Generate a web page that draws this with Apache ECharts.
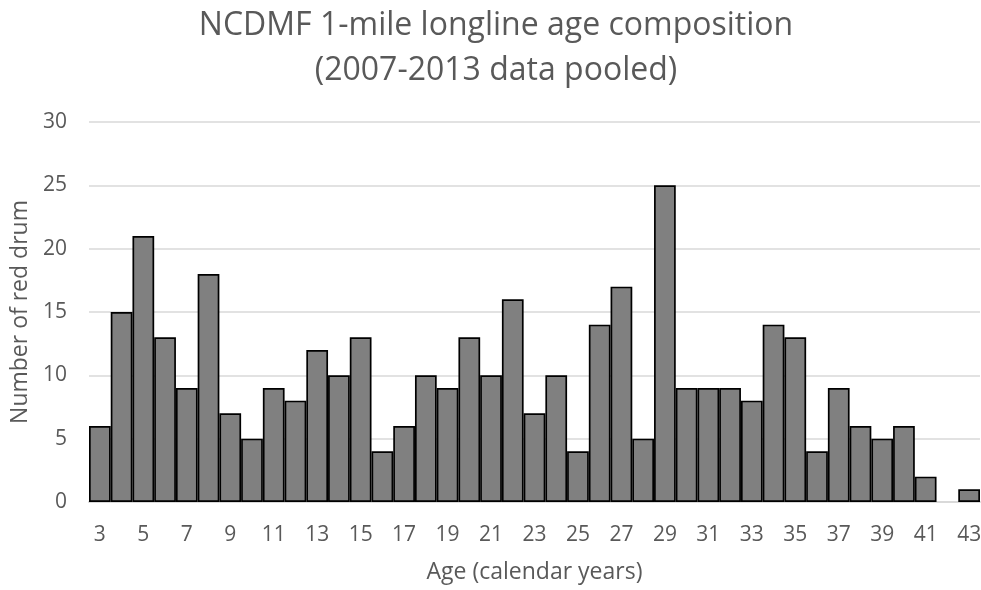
<!DOCTYPE html>
<html><head><meta charset="utf-8">
<script src="https://cdn.jsdelivr.net/npm/echarts@6/dist/echarts.min.js"></script>
<style>html,body{margin:0;padding:0;background:#fff}#c{width:981px;height:590px}</style>
</head><body><div id="c"></div>
<script>
const ages = ['3','4','5','6','7','8','9','10','11','12','13','14','15','16','17','18','19','20','21','22','23','24','25','26','27','28','29','30','31','32','33','34','35','36','37','38','39','40','41','42','43'];
const counts = [6,15,21,13,9,18,7,5,9,8,12,10,13,4,6,10,9,13,10,16,7,10,4,14,17,5,25,9,9,9,8,14,13,4,9,6,5,6,2,0,1];
const titleLines = ['NCDMF 1-mile longline age composition','(2007-2013 data pooled)'];
const yTicks = {min:0, max:30, interval:5};
const font = '"Open Sans", "Noto Sans", sans-serif';
const chart = echarts.init(document.getElementById('c'));
const barData = counts.map(v => v === 0 ? {value:v, itemStyle:{borderWidth:0}} : v);
chart.setOption({
  animation:false,
  title:{text:titleLines.join('\n'), left:491, top:-2, textAlign:'center',
    textStyle:{fontFamily:font, fontSize:32, fontWeight:'normal', color:'#595959', lineHeight:45}},
  grid:{left:89, right:1, top:122, bottom:88, containLabel:false, outerBoundsMode:'none'},
  xAxis:{type:'category', data:ages,
    name:'Age (calendar years)', nameLocation:'middle', nameGap:59,
    nameTextStyle:{fontFamily:font, fontSize:23, color:'#595959'},
    axisLine:{lineStyle:{color:'#d9d9d9', width:2}},
    axisTick:{show:false},
    axisLabel:{interval:1, fontFamily:font, fontSize:21, color:'#595959', margin:23}},
  yAxis:{type:'value', min:yTicks.min, max:yTicks.max, interval:yTicks.interval,
    name:'Number of red drum', nameLocation:'middle', nameGap:55,
    nameTextStyle:{fontFamily:font, fontSize:23, color:'#595959'},
    axisLine:{show:false}, axisTick:{show:false},
    splitLine:{lineStyle:{color:'#d9d9d9', width:1.5}},
    axisLabel:{fontFamily:font, fontSize:21, color:'#595959', margin:22}},
  series:[{type:'bar', data:barData, barCategoryGap:'0%',
    itemStyle:{color:'#808080', borderColor:'#000', borderWidth:1.7}}]
});
</script></body></html>
